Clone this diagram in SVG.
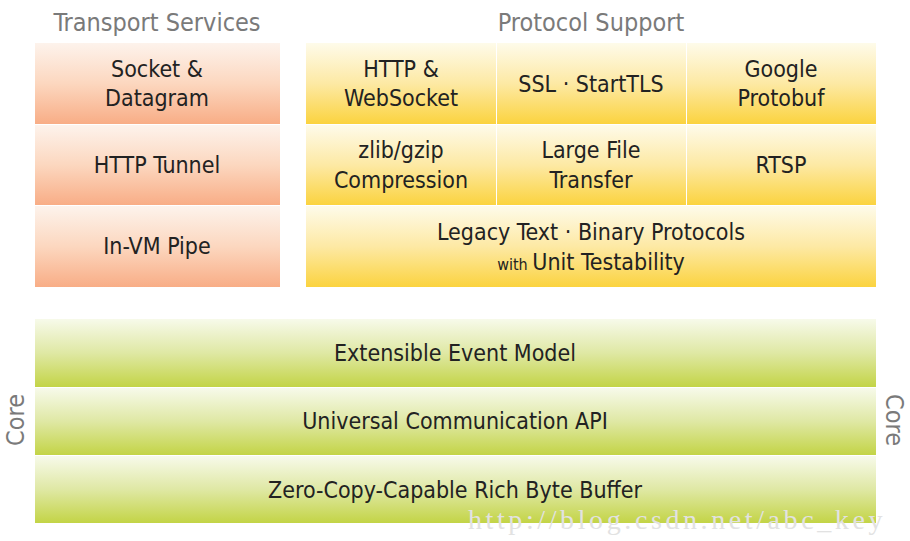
<svg xmlns="http://www.w3.org/2000/svg" width="910" height="541" viewBox="0 0 910 541">
<defs>
<linearGradient id="gO" x1="0" y1="0" x2="0" y2="1">
<stop offset="0" stop-color="#fdf3ec"/><stop offset="0.5" stop-color="#fcd7bf"/><stop offset="1" stop-color="#f8ad86"/>
</linearGradient>
<linearGradient id="gY" x1="0" y1="0" x2="0" y2="1">
<stop offset="0" stop-color="#fefbea"/><stop offset="0.5" stop-color="#fde9a4"/><stop offset="1" stop-color="#fbd33f"/>
</linearGradient>
<linearGradient id="gG" x1="0" y1="0" x2="0" y2="1">
<stop offset="0" stop-color="#f7faea"/><stop offset="0.5" stop-color="#dfe8a4"/><stop offset="1" stop-color="#c3d446"/>
</linearGradient>
<style>
.o{fill:url(#gO)}
.y{fill:url(#gY)}
.g{fill:url(#gG)}
.t{font-family:"DejaVu Sans Condensed","DejaVu Sans",sans-serif;font-size:23px;fill:#222;text-anchor:middle}
.h{font-family:"DejaVu Sans Condensed","DejaVu Sans",sans-serif;font-size:25px;fill:#7a7a7a;text-anchor:middle}
.w{font-size:16px}
.wm{font-family:"Liberation Serif",serif;font-size:28px;fill:#e2e2e2;letter-spacing:3.6px}
</style>
</defs>
<rect width="910" height="541" fill="#ffffff"/>
<text class="h" x="157" y="31">Transport Services</text>
<text class="h" x="591" y="31">Protocol Support</text>

<g id="socket"><rect class="o" x="35" y="43" width="245" height="81"/><text class="t" x="157" y="77">Socket &amp;</text><text class="t" x="157" y="106">Datagram</text></g>
<g id="httptunnel"><rect class="o" x="35" y="125" width="245" height="80"/><text class="t" x="157" y="173">HTTP Tunnel</text></g>
<g id="invm"><rect class="o" x="35" y="206" width="245" height="81"/><text class="t" x="157" y="254">In-VM Pipe</text></g>

<g id="http"><rect class="y" x="306" y="43" width="190" height="81"/><text class="t" x="401" y="77">HTTP &amp;</text><text class="t" x="401" y="106">WebSocket</text></g>
<g id="ssl"><rect class="y" x="497" y="43" width="189" height="81"/><text class="t" x="591" y="92">SSL · StartTLS</text></g>
<g id="protobuf"><rect class="y" x="687" y="43" width="189" height="81"/><text class="t" x="781" y="77">Google</text><text class="t" x="781" y="106">Protobuf</text></g>
<g id="zlib"><rect class="y" x="306" y="125" width="190" height="80"/><text class="t" x="401" y="158">zlib/gzip</text><text class="t" x="401" y="188">Compression</text></g>
<g id="largefile"><rect class="y" x="497" y="125" width="189" height="80"/><text class="t" x="591" y="158">Large File</text><text class="t" x="591" y="188">Transfer</text></g>
<g id="rtsp"><rect class="y" x="687" y="125" width="189" height="80"/><text class="t" x="781" y="173">RTSP</text></g>
<g id="legacy"><rect class="y" x="306" y="206" width="570" height="81"/><text class="t" x="591" y="240">Legacy Text · Binary Protocols</text><text class="t" x="591" y="270"><tspan class="w">with </tspan>Unit Testability</text></g>

<g id="event"><rect class="g" x="35" y="319" width="841" height="68"/><text class="t" x="455" y="361">Extensible Event Model</text></g>
<g id="api"><rect class="g" x="35" y="388" width="841" height="67"/><text class="t" x="455" y="429">Universal Communication API</text></g>
<g id="buffer"><rect class="g" x="35" y="456" width="841" height="67"/><text class="t" x="455" y="498">Zero-Copy-Capable Rich Byte Buffer</text></g>

<text class="h" transform="translate(24,420) rotate(-90)">Core</text>
<text class="h" transform="translate(886,420) rotate(90)">Core</text>
<g id="connectors"></g>
<text class="wm" x="468" y="529">http://blog.csdn.net/abc_key</text>
</svg>
